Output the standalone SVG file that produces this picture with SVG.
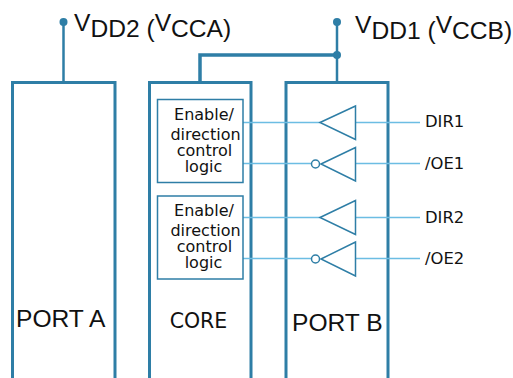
<svg xmlns="http://www.w3.org/2000/svg" width="513" height="378" viewBox="0 0 513 378">
<style>
.port{fill:none;stroke:#2e7ea6;stroke-width:3}
.rail{fill:none;stroke:#2e7ea6;stroke-width:2.5}
.rail-b{fill:none;stroke:#2e7ea6;stroke-width:3.5}
.dot{fill:#2e7ea6}
.logic{fill:#fff;stroke:#2e7ea6;stroke-width:1.5}
.sig{fill:none;stroke:#6cbde3;stroke-width:1.5}
.buf{fill:#fff;stroke:#2e7ea6;stroke-width:1.5;stroke-linejoin:miter}
.sans{font-family:"Liberation Sans",Arial,sans-serif;fill:#111}
.dj{font-family:"DejaVu Sans",sans-serif;fill:#111}
.big{font-size:24.6px}
.lab{font-size:16.4px}
.log{font-size:16px;text-anchor:middle}
</style>
<g id="connectors">
<path class="rail" d="M63.5 22V82"/>
<path class="rail" d="M337 22V82"/>
<path class="rail-b" d="M200 82V55H337"/>
<circle class="dot" cx="63.5" cy="22" r="4"/>
<circle class="dot" cx="337" cy="22" r="4"/>
<circle class="dot" cx="337" cy="55" r="4"/>
</g>
<g id="port-a">
<path class="port" d="M12.5 378V82.500H115V378"/>
<text class="sans" x="16" y="327" font-size="24.600">PORT A</text>
</g>
<g id="core">
<path class="port" d="M149.500 378V82.500H251V378"/>
<text class="dj" x="198.500" y="328" font-size="20.500" text-anchor="middle">CORE</text>
</g>
<g id="port-b">
<path class="port" d="M286 378V82.500H388V378"/>
<text class="sans" x="292" y="331" font-size="24.600">PORT B</text>
</g>
<g id="signals">
<path class="sig" d="M243 122.500H320M356 122.500H420"/>
<path class="sig" d="M243 163.500H312M356 163.500H420"/>
<path class="sig" d="M243 217.500H320M356 217.500H420"/>
<path class="sig" d="M243 258.500H312M356 258.500H420"/>
</g>
<g id="logic-1">
<rect class="logic" x="157.500" y="99.500" width="85.500" height="83"/>
<text class="dj log" x="204" y="120">Enable/</text>
<text class="dj log" x="205.500" y="140">direction</text>
<text class="dj log" x="204.500" y="155.500">control</text>
<text class="dj log" x="203.500" y="171.500">logic</text>
</g>
<g id="logic-2">
<rect class="logic" x="157.500" y="196" width="85.500" height="83"/>
<text class="dj log" x="204" y="216">Enable/</text>
<text class="dj log" x="205.500" y="236">direction</text>
<text class="dj log" x="204.500" y="251.500">control</text>
<text class="dj log" x="203.500" y="267.500">logic</text>
</g>
<g id="buf-dir1"><path class="buf" d="M320 122.500L355.500 106V139.500Z"/><text class="dj lab" x="425" y="127">DIR1</text></g>
<g id="buf-oe1"><path class="buf" d="M321 164L355.500 147.500V181Z"/><circle class="buf" cx="315.500" cy="164" r="4"/><text class="dj lab" x="425" y="168.500">/OE1</text></g>
<g id="buf-dir2"><path class="buf" d="M320 217.500L355.500 200.500V234.500Z"/><text class="dj lab" x="425" y="222.500">DIR2</text></g>
<g id="buf-oe2"><path class="buf" d="M321 259L355.500 242V276Z"/><circle class="buf" cx="315.500" cy="259" r="4"/><text class="dj lab" x="425" y="264">/OE2</text></g>
<g id="vdd2"><text class="sans big" x="74" y="31">V<tspan dy="5.500">DD2 (</tspan><tspan dy="-5.500">V</tspan><tspan dy="5.500">CCA)</tspan></text></g>
<g id="vdd1"><text class="sans big" x="355" y="33">V<tspan dy="5.500">DD1 (</tspan><tspan dy="-5.500">V</tspan><tspan dy="5.500">CCB)</tspan></text></g>
</svg>
